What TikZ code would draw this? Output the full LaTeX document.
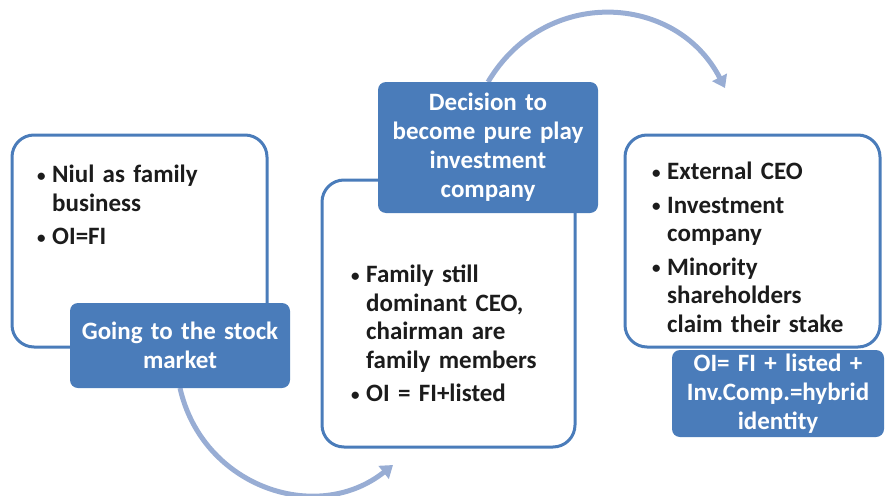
\documentclass[tikz,border=0pt]{standalone}
\usepackage{fontspec}
\setmainfont{Carlito}
\usetikzlibrary{positioning}
\usetikzlibrary{arrows.meta}

\definecolor{stageblue}{RGB}{74,124,186}
\definecolor{turnblue}{RGB}{152,173,212}
\definecolor{inkgray}{RGB}{28,28,28}

% one bullet point with hanging indent
\newcommand{\bpoint}[1]{\par\hangindent=15pt\hangafter=1\noindent
    \makebox[15pt][l]{\raisebox{1.5pt}{\fontsize{17}{17}\selectfont\textbullet}}#1\par}

\begin{document}
\begin{tikzpicture}[x=1pt, y=-1pt,
    stage/.style={draw=stageblue, line width=3pt, rounded corners=22pt, fill=white},
    label/.style={fill=stageblue, text=white, rounded corners=8pt, inner sep=2pt,
        align=center, font=\fontsize{25}{29}\selectfont\bfseries},
    points/.style={anchor=north west, inner sep=0pt, text=inkgray,
        font=\fontsize{25}{28.5}\selectfont\bfseries\setlength{\parskip}{5pt}},
    turn/.style={draw=turnblue, line width=5pt, -{Triangle[length=12pt,width=16pt]}}]
    \useasboundingbox (0,0) rectangle (885,495);
    % stage boxes %
    \node[stage, minimum width=255pt, minimum height=212pt] (family) at (139.5,241) {};
    \node[stage, minimum width=253pt, minimum height=267pt] (listed) at (448.5,313.5) {};
    \node[stage, minimum width=255pt, minimum height=212pt] (invest) at (752.5,241) {};
    % bullet texts %
    \node[points, text width=220pt] (familytxt) at (37,149) {%
        \bpoint{Niul as family\newline business}
        \bpoint{OI=FI}};
    \node[points, text width=215pt] (listedtxt) at (351,249) {%
        \bpoint{Family still\newline dominant CEO,\newline chairman are\newline family members}
        \bpoint{OI = FI+listed}};
    \node[points, text width=225pt] (investtxt) at (652,146) {%
        \bpoint{External CEO}
        \bpoint{Investment\newline company}
        \bpoint{Minority\newline shareholders\newline claim their stake}};
    % edges %
    \coordinate (intolisted) at (393,465);
    \coordinate (intoinvest) at (725,88);
    \draw[turn] (180,388) .. controls (202,486) and (316,526) .. (intolisted);
    \draw[turn] (488,82) .. controls (545,-14) and (676,-7) .. (intoinvest);
    % step labels %
    \node[label, text width=216pt, minimum width=220pt, minimum height=85pt] (going) at (180,345.5)
        {Going to the stock\\market};
    \node[label, text width=216pt, minimum width=220pt, minimum height=131pt] (decision) at (488,147.5)
        {Decision to\\become pure play\\investment\\company};
    \node[label, text width=208pt, minimum width=212pt, minimum height=87pt] (hybrid) at (778,393.5)
        {OI= FI + listed +\\Inv.Comp.=hybrid\\identity};
\end{tikzpicture}
\end{document}
